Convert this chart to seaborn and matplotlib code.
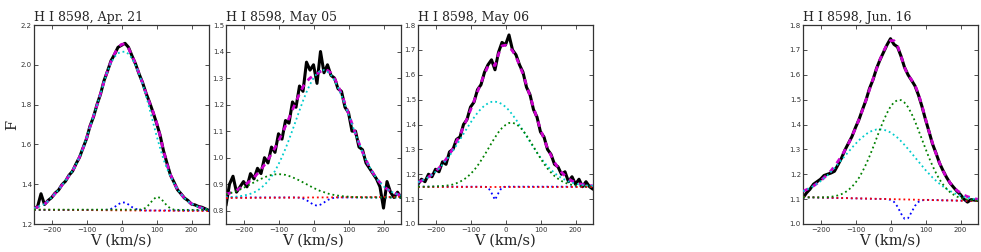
import numpy as np
import pandas as pd
import matplotlib
matplotlib.use("Agg")
import matplotlib.pyplot as plt
import seaborn as sns

# ---------------- data ----------------
velocity = list(range(-250, 251, 10))   # km/s sampling of all curves

titles = ["H I 8598, Apr. 21", "H I 8598, May 05", "H I 8598, May 06", "H I 8598, Jun. 16"]

obs_apr21 = [1.280, 1.286, 1.352, 1.298, 1.318, 1.332, 1.355, 1.370, 1.398, 1.415,
             1.445, 1.465, 1.502, 1.535, 1.582, 1.628, 1.692, 1.738, 1.800, 1.852,
             1.920, 1.968, 2.020, 2.052, 2.088, 2.098, 2.108, 2.088, 2.045, 2.005,
             1.955, 1.912, 1.858, 1.812, 1.762, 1.708, 1.648, 1.568, 1.505, 1.445,
             1.410, 1.372, 1.352, 1.330, 1.318, 1.300, 1.296, 1.288, 1.284, 1.276, 1.268]
fit_apr21 = [1.278, 1.285, 1.292, 1.300, 1.315, 1.333, 1.352, 1.372, 1.395, 1.418,
             1.442, 1.467, 1.499, 1.537, 1.580, 1.630, 1.688, 1.742, 1.797, 1.855,
             1.915, 1.970, 2.016, 2.055, 2.086, 2.103, 2.104, 2.083, 2.047, 2.004,
             1.957, 1.909, 1.857, 1.810, 1.764, 1.711, 1.645, 1.568, 1.500, 1.448,
             1.407, 1.375, 1.350, 1.330, 1.314, 1.302, 1.293, 1.286, 1.280, 1.275, 1.271]
cyan_apr21 = [1.278, 1.285, 1.292, 1.300, 1.315, 1.333, 1.352, 1.372, 1.395, 1.418,
              1.442, 1.467, 1.499, 1.537, 1.580, 1.630, 1.688, 1.742, 1.797, 1.855,
              1.915, 1.968, 2.010, 2.040, 2.058, 2.065, 2.066, 2.055, 2.032, 1.998,
              1.955, 1.905, 1.845, 1.780, 1.712, 1.645, 1.583, 1.525, 1.478, 1.440,
              1.405, 1.375, 1.350, 1.330, 1.314, 1.302, 1.293, 1.286, 1.280, 1.275, 1.271]
green_apr21 = [1.272] * 31 + [1.274, 1.282, 1.300, 1.322, 1.336, 1.332, 1.313, 1.292, 1.278, 1.272] + [1.271] * 10
blue_apr21 = [1.270] * 21 + [1.272, 1.276, 1.285, 1.298, 1.308, 1.308, 1.298, 1.285, 1.276, 1.272] + [1.268] * 20
red_apr21 = [1.272, 1.265]

obs_may05 = [0.82, 0.90, 0.93, 0.87, 0.89, 0.91, 0.89, 0.94, 0.92, 0.96,
             0.94, 1.00, 0.98, 1.04, 1.02, 1.09, 1.07, 1.14, 1.13, 1.21,
             1.19, 1.27, 1.25, 1.36, 1.33, 1.35, 1.28, 1.40, 1.32, 1.35,
             1.31, 1.30, 1.26, 1.25, 1.19, 1.17, 1.10, 1.10, 1.04, 1.03,
             0.98, 0.96, 0.94, 0.92, 0.89, 0.81, 0.91, 0.87, 0.85, 0.87, 0.85]
fit_may05 = [0.863, 0.866, 0.872, 0.877, 0.885, 0.893, 0.903, 0.914, 0.926, 0.940,
             0.956, 0.973, 0.993, 1.014, 1.037, 1.063, 1.090, 1.119, 1.149, 1.180,
             1.211, 1.241, 1.267, 1.287, 1.300, 1.309, 1.316, 1.325, 1.331, 1.329,
             1.319, 1.299, 1.272, 1.239, 1.204, 1.166, 1.128, 1.090, 1.055, 1.021,
             0.991, 0.965, 0.942, 0.922, 0.906, 0.892, 0.882, 0.873, 0.867, 0.862, 0.858]
cyan_may05 = [0.851, 0.851, 0.852, 0.853, 0.855, 0.857, 0.860, 0.864, 0.869, 0.876,
              0.886, 0.897, 0.912, 0.929, 0.950, 0.975, 1.003, 1.034, 1.068, 1.104,
              1.141, 1.178, 1.214, 1.247, 1.276, 1.300, 1.317, 1.328, 1.330, 1.324,
              1.311, 1.291, 1.265, 1.234, 1.200, 1.163, 1.126, 1.089, 1.054, 1.021,
              0.991, 0.965, 0.942, 0.922, 0.906, 0.892, 0.882, 0.873, 0.867, 0.862, 0.858]
green_may05 = [0.862, 0.865, 0.870, 0.874, 0.880, 0.886, 0.893, 0.900, 0.907, 0.914,
               0.920, 0.926, 0.931, 0.935, 0.937, 0.938, 0.937, 0.935, 0.931, 0.926,
               0.920, 0.914, 0.907, 0.900, 0.893, 0.886, 0.880, 0.874, 0.870, 0.865,
               0.862, 0.859, 0.857, 0.855, 0.854, 0.853, 0.852, 0.851, 0.851, 0.850] + [0.850] * 11
blue_may05 = [0.850] * 20 + [0.850, 0.849, 0.846, 0.840, 0.831, 0.823, 0.819, 0.823, 0.831, 0.840, 0.846, 0.849] + [0.850] * 19
red_may05 = [0.848, 0.852]

obs_may06 = [1.16, 1.18, 1.17, 1.20, 1.19, 1.22, 1.21, 1.25, 1.24, 1.29,
             1.30, 1.34, 1.35, 1.40, 1.42, 1.47, 1.49, 1.54, 1.56, 1.61,
             1.64, 1.66, 1.62, 1.69, 1.73, 1.72, 1.76, 1.70, 1.68, 1.64,
             1.61, 1.55, 1.52, 1.46, 1.43, 1.37, 1.35, 1.30, 1.28, 1.24,
             1.23, 1.20, 1.21, 1.17, 1.19, 1.16, 1.18, 1.15, 1.17, 1.15, 1.14]
fit_may06 = [1.168, 1.174, 1.180, 1.189, 1.199, 1.211, 1.225, 1.242, 1.260, 1.280,
             1.304, 1.331, 1.359, 1.390, 1.423, 1.458, 1.494, 1.531, 1.568, 1.603,
             1.634, 1.641, 1.637, 1.683, 1.716, 1.719, 1.713, 1.696, 1.672, 1.639,
             1.602, 1.559, 1.514, 1.469, 1.424, 1.381, 1.341, 1.305, 1.275, 1.248,
             1.226, 1.208, 1.194, 1.182, 1.173, 1.167, 1.162, 1.159, 1.156, 1.155, 1.153]
cyan_may06 = [1.168, 1.174, 1.180, 1.189, 1.198, 1.210, 1.223, 1.239, 1.256, 1.274,
              1.295, 1.317, 1.339, 1.362, 1.385, 1.407, 1.428, 1.447, 1.463, 1.476,
              1.485, 1.491, 1.492, 1.489, 1.482, 1.471, 1.457, 1.439, 1.420, 1.398,
              1.376, 1.353, 1.330, 1.308, 1.287, 1.267, 1.249, 1.232, 1.218, 1.205,
              1.194, 1.185, 1.178, 1.171, 1.166, 1.162, 1.159, 1.157, 1.155, 1.154, 1.153]
green_may06 = [1.150, 1.150, 1.150, 1.150, 1.151, 1.151, 1.152, 1.153, 1.154, 1.156,
               1.159, 1.164, 1.170, 1.178, 1.188, 1.201, 1.216, 1.234, 1.255, 1.277,
               1.301, 1.325, 1.348, 1.369, 1.386, 1.398, 1.406, 1.407, 1.402, 1.391,
               1.376, 1.356, 1.334, 1.311, 1.287, 1.264, 1.242, 1.223, 1.207, 1.193,
               1.182, 1.173, 1.166, 1.161, 1.157, 1.155, 1.153, 1.152, 1.151, 1.151, 1.150]
blue_may06 = [1.150] * 20 + [1.148, 1.125, 1.097, 1.125, 1.148] + [1.150] * 26
red_may06 = [1.150, 1.150]

obs_jun16 = [1.105, 1.125, 1.140, 1.160, 1.170, 1.180, 1.195, 1.200, 1.205, 1.212,
             1.238, 1.265, 1.298, 1.325, 1.352, 1.388, 1.420, 1.460, 1.498, 1.545,
             1.580, 1.625, 1.660, 1.690, 1.720, 1.745, 1.722, 1.712, 1.675, 1.630,
             1.600, 1.578, 1.555, 1.518, 1.472, 1.420, 1.372, 1.322, 1.285, 1.245,
             1.215, 1.188, 1.165, 1.148, 1.132, 1.118, 1.100, 1.088, 1.098, 1.096, 1.095]
fit_jun16 = [1.132, 1.138, 1.145, 1.153, 1.163, 1.173, 1.186, 1.199, 1.214, 1.232,
             1.252, 1.273, 1.297, 1.323, 1.353, 1.385, 1.421, 1.458, 1.498, 1.540,
             1.582, 1.623, 1.661, 1.694, 1.721, 1.737, 1.737, 1.716, 1.675, 1.630,
             1.598, 1.580, 1.558, 1.522, 1.475, 1.423, 1.372, 1.325, 1.283, 1.246,
             1.214, 1.187, 1.166, 1.149, 1.135, 1.125, 1.116, 1.110, 1.106, 1.102, 1.099]
cyan_jun16 = [1.132, 1.138, 1.145, 1.153, 1.162, 1.172, 1.184, 1.196, 1.210, 1.225,
              1.241, 1.257, 1.274, 1.290, 1.307, 1.322, 1.337, 1.349, 1.361, 1.370,
              1.376, 1.380, 1.381, 1.379, 1.375, 1.368, 1.358, 1.347, 1.333, 1.318,
              1.302, 1.285, 1.268, 1.251, 1.234, 1.217, 1.202, 1.187, 1.174, 1.162,
              1.151, 1.141, 1.133, 1.126, 1.119, 1.114, 1.109, 1.106, 1.103, 1.100, 1.098]
green_jun16 = [1.108, 1.107, 1.107, 1.107, 1.107, 1.107, 1.107, 1.108, 1.109,
               1.112, 1.115, 1.120, 1.127, 1.137, 1.150, 1.166, 1.186, 1.211, 1.240,
               1.272, 1.307, 1.344, 1.381, 1.415, 1.446,
               1.472, 1.489, 1.498, 1.498, 1.488, 1.470, 1.444, 1.413, 1.377, 1.340,
               1.303, 1.267, 1.234, 1.205, 1.179, 1.159, 1.142, 1.128, 1.118, 1.110,
               1.105, 1.101, 1.098, 1.096, 1.094, 1.093]
blue_jun16 = [1.108, 1.107, 1.107, 1.107, 1.106, 1.106, 1.106, 1.105, 1.105, 1.105,
              1.104, 1.104, 1.104, 1.104, 1.103, 1.103, 1.103, 1.102, 1.102, 1.102,
              1.101, 1.101, 1.101, 1.101, 1.100,
              1.097, 1.089, 1.070, 1.042, 1.021, 1.023, 1.047, 1.073, 1.089, 1.095,
              1.097, 1.097, 1.096, 1.096, 1.096, 1.095, 1.095, 1.095, 1.095, 1.094,
              1.094, 1.094, 1.093, 1.093, 1.093, 1.092]
red_jun16 = [1.108, 1.092]

panel_obs = [obs_apr21, obs_may05, obs_may06, obs_jun16]
panel_fit = [fit_apr21, fit_may05, fit_may06, fit_jun16]
panel_cyan = [cyan_apr21, cyan_may05, cyan_may06, cyan_jun16]
panel_green = [green_apr21, green_may05, green_may06, green_jun16]
panel_blue = [blue_apr21, blue_may05, blue_may06, blue_jun16]
panel_red = [red_apr21, red_may05, red_may06, red_jun16]

y_limits = [(1.2, 2.2), (0.75, 1.5), (1.0, 1.8), (1.0, 1.8)]
y_ticks = [[1.2, 1.4, 1.6, 1.8, 2.0, 2.2],
           [0.8, 0.9, 1.0, 1.1, 1.2, 1.3, 1.4, 1.5],
           [1.0, 1.1, 1.2, 1.3, 1.4, 1.5, 1.6, 1.7, 1.8],
           [1.0, 1.1, 1.2, 1.3, 1.4, 1.5, 1.6, 1.7, 1.8]]
x_ticks = [-200, -100, 0, 100, 200]
v_range = [-250, 250]

# ---------------- style ----------------
sns.set_style("ticks")
plt.rcParams.update({
    "font.family": ["DejaVu Sans"],
    "xtick.direction": "in", "ytick.direction": "in",
    "xtick.top": True, "ytick.right": True,
    "xtick.major.size": 3, "ytick.major.size": 3,
    "xtick.major.width": 0.6, "ytick.major.width": 0.6,
    "xtick.labelsize": 5, "ytick.labelsize": 5,
    "xtick.major.pad": 2.5, "ytick.major.pad": 1.5,
    "axes.linewidth": 0.9, "axes.edgecolor": "#333333",
    "xtick.color": "#333333", "ytick.color": "#333333",
})

fig = plt.figure(figsize=(9.81, 2.52), dpi=100)
W, H = 981.0, 252.0
lefts = [34, 226, 418, 803]
serif = ["DejaVu Serif"]

for i in range(4):
    ax = fig.add_axes([lefts[i] / W, 28 / H, 175 / W, 199 / H])
    sns.lineplot(x=velocity, y=panel_obs[i], ax=ax, color="black", lw=2.2,
                 estimator=None, sort=False, zorder=2)
    sns.lineplot(x=velocity, y=panel_fit[i], ax=ax, color=(0.8, 0, 0.8), lw=2.0,
                 linestyle=(0, (2.0, 2.0)), estimator=None, sort=False, zorder=3)
    sns.lineplot(x=velocity, y=panel_blue[i], ax=ax, color="blue", lw=1.3,
                 linestyle=":", estimator=None, sort=False, zorder=4)
    sns.lineplot(x=velocity, y=panel_cyan[i], ax=ax, color=(0, 0.8, 0.8), lw=1.3,
                 linestyle=":", estimator=None, sort=False, zorder=5)
    sns.lineplot(x=v_range, y=panel_red[i], ax=ax, color="red", lw=1.3,
                 linestyle=":", estimator=None, sort=False, zorder=6)
    sns.lineplot(x=velocity, y=panel_green[i], ax=ax, color=(0, 0.5, 0), lw=1.3,
                 linestyle=":", estimator=None, sort=False, zorder=7)
    ax.set_xlim(-250, 250)
    ax.set_ylim(*y_limits[i])
    ax.set_xticks(x_ticks)
    ax.set_xticklabels(["\u2212200", "\u2212100", "0", "100", "200"])
    ax.set_yticks(y_ticks[i])
    ax.set_yticklabels([f"{t:.1f}" for t in y_ticks[i]])
    ax.set_title(titles[i], loc="left", fontsize=9, family=serif, pad=3)
    ax.set_xlabel("V (km/s)", fontsize=10.5, family=serif, labelpad=0)
    if i == 0:
        ax.set_ylabel("F", fontsize=10.5, family=serif, labelpad=1)
    else:
        ax.set_ylabel("")
    for s in ax.spines.values():
        s.set_visible(True)

fig.savefig("out.png", dpi=100)
